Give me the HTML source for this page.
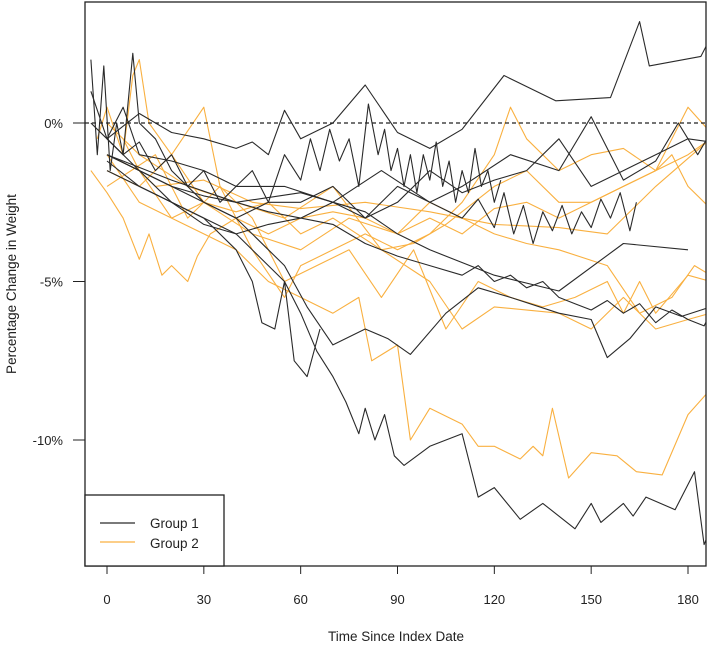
<!DOCTYPE html>
<html><head><meta charset="utf-8"><style>
body{margin:0;background:#fff;position:relative;}
svg{display:block;font-family:"Liberation Sans",sans-serif;}
</style></head><body>
<svg id="chart" width="709" height="646">
<g id="marks"></g>
<g id="axes"></g>
</svg>
<script>
const xTicks=[0,30,60,90,120,150,180];
const yTicks=[0,-5,-10];
const yTickLabels=["0%","-5%","-10%"];
const group1=[
[[-5,0],[0,-0.5],[10,0.3],[20,-0.3],[30,-0.5],[40,-0.8],[45,-0.6],[50,-1],[55,0.4],[60,-0.5],[70,0],[80,1.2],[90,-0.3],[100,-0.8],[110,-0.2],[123,1.5],[139,0.7],[156,0.8],[165,3.2],[168,1.8],[184,2.1],[187,2.7]],
[[0,-0.5],[5,-1],[10,-0.6],[15,-1.5],[20,-1],[25,-2],[30,-1.5],[35,-2.5],[40,-2],[45,-1.5],[50,-2.5],[55,-1],[60,-1.8],[63,-0.5],[66,-1.5],[69,-0.2],[72,-1.2],[75,-0.5],[78,-2],[81,0.6],[84,-1],[86,-0.2],[88,-1.5],[90,-0.8],[92,-2],[94,-1],[96,-2.2],[98,-1],[100,-1.8],[102,-0.6],[104,-2],[106,-1.2],[108,-2.5],[110,-1.5],[112,-2.2],[114,-0.8],[116,-2],[118,-1.5],[120,-2.5],[122,-1.8]],
[[0,-1],[10,-1.5],[20,-2],[30,-2.3],[40,-2.5],[50,-2.8],[60,-3],[70,-2.5],[80,-3],[90,-2],[100,-2.5],[110,-3],[115,-2.4],[120,-3.3],[123,-2.2],[126,-3.5],[129,-2.6],[132,-3.8],[135,-2.8],[138,-3.4],[141,-2.6],[144,-3.5],[147,-2.8],[150,-3.3],[153,-2.4],[156,-3],[159,-2.2],[162,-3.4],[164,-2.5]],
[[0,-1.5],[20,-2.5],[40,-3.5],[55,-5],[60,-6],[65,-7.2],[70,-8],[74,-8.8],[78,-9.8],[80,-9],[83,-10],[86,-9.2],[89,-10.5],[92,-10.8],[100,-10.2],[110,-9.8],[115,-11.8],[120,-11.5],[128,-12.5],[135,-12],[145,-12.8],[150,-12],[153,-12.6],[160,-12],[163,-12.4],[167,-11.8],[176,-12.2],[182,-11],[185,-13.3],[187,-12.8]],
[[0,-1],[20,-2],[40,-3],[50,-4],[55,-4.5],[62,-5.8],[70,-7],[80,-6.5],[87,-6.8],[94,-7.3],[105,-6],[115,-5.2],[125,-5.5],[140,-6],[150,-6.2],[155,-7.4],[162,-6.8],[170,-5.8],[178,-6.1],[187,-5.8]],
[[0,-1.2],[10,-2],[20,-2.5],[30,-3.2],[40,-3.5],[50,-3.2],[60,-3],[70,-3.2],[80,-3.8],[90,-4.2],[100,-4.5],[110,-4.8],[115,-4.5],[120,-5],[125,-4.8],[130,-5.2],[135,-5],[140,-5.5],[145,-5.7],[150,-5.9],[155,-5.6],[160,-6],[165,-5.7],[170,-6.3],[175,-5.9],[180,-6.2],[185,-6.4],[187,-6]],
[[0,-1],[20,-1.8],[40,-2.5],[60,-2.2],[80,-2.8],[90,-3.5],[100,-4],[120,-4.8],[140,-5.3],[160,-3.8],[180,-4]],
[[0,-0.5],[10,-1.5],[20,-2.5],[30,-3],[40,-4],[45,-5],[48,-6.3],[52,-6.5],[55,-5],[58,-7.5],[62,-8],[66,-6.5]],
[[-5,1],[0,-0.5],[5,0.5],[10,-1],[20,-1.2],[30,-1.5],[40,-2],[55,-2],[70,-2.5],[85,-1.5],[100,-2.5],[110,-2],[125,-1],[140,-1.5],[150,0.2],[160,-1.8],[170,-1.2],[177,0],[183,-1],[187,-0.3]],
[[-5,2],[-3,-1],[-1,1.8],[1,-1.5],[3,0],[5,-1],[8,2.2],[10,0],[15,-0.5],[20,-1.5],[30,-2.5],[40,-3],[50,-2.5],[60,-2.5],[70,-2],[80,-3],[90,-2.5],[100,-1.5],[110,-2.2],[120,-1.8],[130,-1.5],[140,-0.5],[150,-2],[160,-1.5],[170,-1],[180,-0.5],[187,-0.6]]
];
const group2=[
[[0,-1],[10,-1.5],[20,-3],[30,-3.5],[40,-4],[50,-5],[60,-5.5],[70,-6],[78,-5.5],[82,-7.5],[90,-7],[94,-10],[100,-9],[110,-9.5],[115,-10.2],[120,-10.2],[128,-10.6],[132,-10.2],[135,-10.5],[138,-9],[143,-11.2],[150,-10.4],[158,-10.5],[164,-11],[172,-11.1],[180,-9.2],[187,-8.4]],
[[-5,-1.5],[0,-2.2],[5,-3],[10,-4.3],[13,-3.5],[17,-4.8],[20,-4.5],[25,-5],[28,-4.2],[32,-3.5],[40,-3],[50,-3.5],[60,-3],[70,-2.8],[80,-3],[90,-3.5],[100,-3],[110,-3.5],[120,-2.7],[130,-2.5],[140,-3],[150,-2.5],[160,-2],[170,-1.5],[180,-1],[187,-0.5]],
[[-3,-0.5],[0,0.5],[5,-1],[8,1.5],[10,2],[13,0],[20,-1],[30,0.5],[35,-2],[45,-3],[55,-5],[65,-4.5],[75,-4],[85,-5.5],[95,-4],[105,-6.5],[115,-5],[125,-5.5],[135,-5.8],[145,-5.5],[155,-5],[160,-6],[165,-5],[170,-6],[180,-4.8],[187,-5]],
[[0,-1.5],[10,-2],[20,-1],[30,-2.5],[40,-2.8],[50,-2.5],[60,-3.5],[70,-3],[85,-4],[95,-3.8],[105,-3.2],[120,-2],[130,-1.5],[140,-2.5],[150,-2.5],[160,-2],[170,-1.5],[175,-1],[180,-2],[187,-2.7]],
[[0,-2],[15,-1],[25,-3],[35,-2],[45,-4],[55,-5.5],[60,-4.5],[70,-4],[80,-3.5],[90,-4],[100,-3.5],[110,-2.5],[120,-1],[125,0.5],[130,-0.5],[140,-1.5],[150,-1],[160,-0.8],[170,-1.5],[180,0.5],[187,-0.3]],
[[0,-1],[10,-2.5],[20,-3],[30,-2.5],[45,-3.5],[60,-4],[75,-3],[90,-3.5],[100,-2.5],[110,-3],[120,-3.5],[130,-3.8],[140,-4],[155,-4.5],[165,-6],[175,-5.5],[182,-4.5],[187,-4.8]],
[[0,0],[10,-1],[25,-2],[40,-2.5],[55,-3],[70,-2],[85,-4],[100,-5],[110,-6.5],[120,-5.8],[140,-6],[150,-6.5],[160,-5.5],[170,-6.5],[180,-6.2],[187,-6]],
[[5,-0.5],[10,-1.5],[15,-2],[30,-1.8],[45,-2.5],[60,-2.7],[80,-2.5],[100,-2.8],[120,-3.2],[140,-3.3],[155,-3.5],[170,-2],[187,-0.5]]
];
const NS="http://www.w3.org/2000/svg";
const L=85,R=706,T=2,B=566;
const xs=d=>107+d*(688-107)/180;
const ys=p=>123-p*31.7;
const marks=document.getElementById('marks');
const axes=document.getElementById('axes');
function mk(tag,attrs,parent){const e=document.createElementNS(NS,tag);for(const k in attrs)e.setAttribute(k,attrs[k]);parent.appendChild(e);return e;}
const cp=mk('clipPath',{id:'clip'},document.getElementById('chart'));
mk('rect',{x:L,y:T,width:R-L,height:B-T},cp);
marks.setAttribute('clip-path','url(#clip)');
function drawGroup(arr,color,name){
arr.forEach((s,i)=>{
const p=mk('polyline',{points:s.map(v=>xs(v[0]).toFixed(1)+','+ys(v[1]).toFixed(1)).join(' '),fill:'none',stroke:color,'stroke-width':1.1,'stroke-linejoin':'round'},marks);


});}
drawGroup(group2,'#f9b040','group2');
drawGroup(group1,'#2a2a2a','group1');
const zl=mk('line',{x1:L,x2:R,y1:ys(0),y2:ys(0),stroke:'#222','stroke-dasharray':'4,3','stroke-width':1.2},marks);


const fr=mk('rect',{x:L,y:T,width:R-L,height:B-T,fill:'none',stroke:'#222','stroke-width':1.3},axes);


xTicks.forEach(t=>{
mk('line',{x1:xs(t),x2:xs(t),y1:B,y2:B+8,stroke:'#222'},axes);
const tx=mk('text',{x:xs(t),y:B+38,'text-anchor':'middle','font-size':13,fill:'#222'},axes);
tx.textContent=t;


});
yTicks.forEach((t,i)=>{
mk('line',{x1:L-12,x2:L,y1:ys(t),y2:ys(t),stroke:'#222'},axes);
const tx=mk('text',{x:63,y:ys(t)+5,'text-anchor':'end','font-size':13,fill:'#222'},axes);
tx.textContent=yTickLabels[i];


});
</script>
<svg width="709" height="646" style="position:absolute;left:0;top:0;font-family:'Liberation Sans',sans-serif">
<text x="396" y="641" text-anchor="middle" font-size="13.5" fill="#222">Time Since Index Date</text>
<text transform="translate(16,284) rotate(-90)" text-anchor="middle" font-size="13.5" fill="#222">Percentage Change in Weight</text>
<g>
<rect x="85" y="495" width="139" height="71" fill="#fff" stroke="#222" stroke-width="1.3"/>
<line x1="100" x2="135" y1="523" y2="523" stroke="#2a2a2a" stroke-width="1.3"/>
<text x="150" y="528" font-size="13.5" fill="#222">Group 1</text>
<line x1="100" x2="135" y1="542" y2="542" stroke="#f9b040" stroke-width="1.3"/>
<text x="150" y="548" font-size="13.5" fill="#222">Group 2</text>
</g>
</svg>
</body></html>
